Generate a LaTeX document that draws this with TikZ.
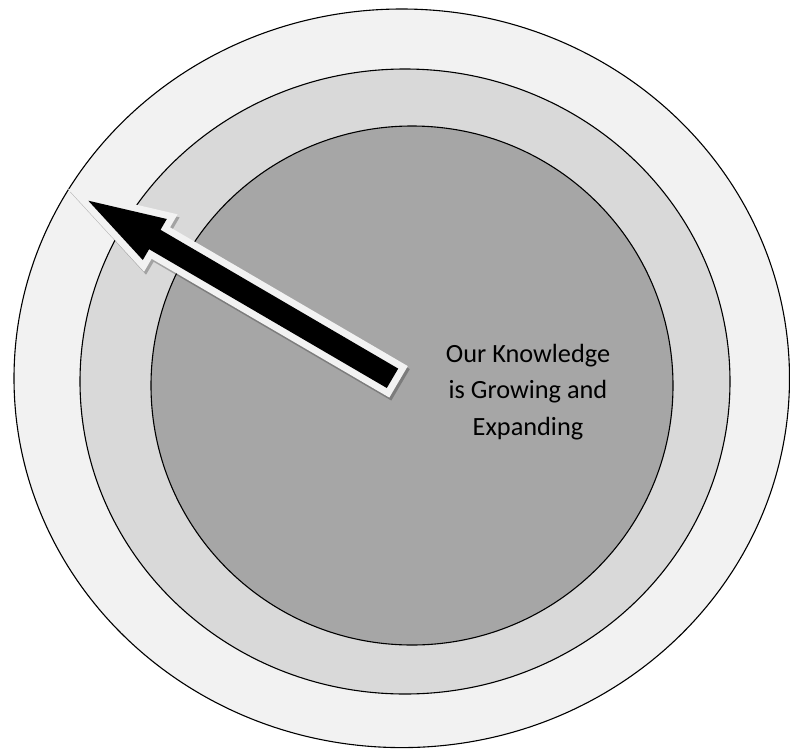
\documentclass[tikz,border=0pt]{standalone}
\usepackage{fontspec}
\setmainfont{Carlito}
\begin{document}
\begin{tikzpicture}[x=1pt,y=-1pt,
  ring/.style={draw=black,line width=1.1pt},
  label/.style={anchor=base,inner sep=0pt,font=\fontsize{26.3}{36.3}\selectfont},
  arrowoutline/.style={draw=ringA,line width=14pt,line join=miter,miter limit=10},
  arrowshadow/.style={draw=black,fill=black,opacity=0.25,line width=14pt,line join=miter,miter limit=10}]
\definecolor{ringA}{HTML}{F2F2F2}
\definecolor{ringB}{HTML}{D9D9D9}
\definecolor{ringC}{HTML}{A6A6A6}
\useasboundingbox (0,0) rectangle (790,750);
\fill[white] (0,0) rectangle (790,750);
% rings
\filldraw[ring,fill=ringA] (401.75,378.3) ellipse [x radius=387.75, y radius=369.3];
\filldraw[ring,fill=ringB] (405,381.5) ellipse [x radius=325, y radius=312.5];
\filldraw[ring,fill=ringC] (412,385.5) ellipse [x radius=261, y radius=259.5];
% arrow shadow
\begin{scope}[shift={(2,3)}]
\filldraw[arrowshadow] (88.3,200.7) -- (166.8,219.0) -- (160.5,229.8) -- (398.2,368.6) -- (386.8,388.0) -- (149.1,249.2) -- (142.8,260.0) -- cycle;
\end{scope}
% arrow outline and body
\draw[arrowoutline] (88.3,200.7) -- (166.8,219.0) -- (160.5,229.8) -- (398.2,368.6) -- (386.8,388.0) -- (149.1,249.2) -- (142.8,260.0) -- cycle;
\fill[black] (88.3,200.7) -- (166.8,219.0) -- (160.5,229.8) -- (398.2,368.6) -- (386.8,388.0) -- (149.1,249.2) -- (142.8,260.0) -- cycle;
% text
\node[label] (t1) at (528,362.3) {Our Knowledge};
\node[label] (t2) at (528,398.5) {is Growing and};
\node[label] (t3) at (528,435) {Expanding};
\end{tikzpicture}
\end{document}
